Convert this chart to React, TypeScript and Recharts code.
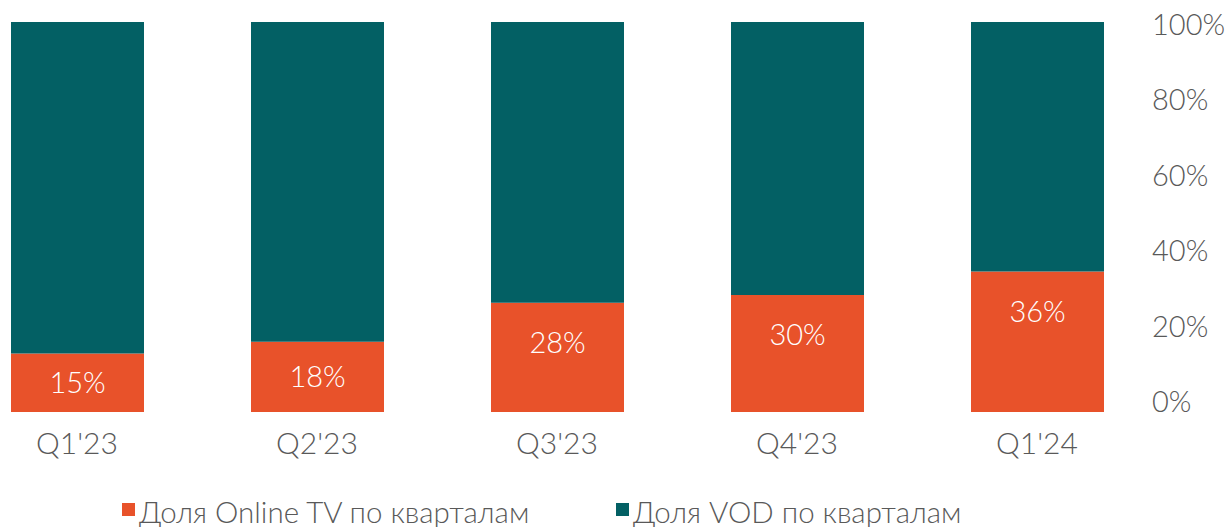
import React from "react";
import { BarChart, Bar, XAxis, YAxis, Legend, LabelList } from "recharts";

const quarters = ["Q1'23", "Q2'23", "Q3'23", "Q4'23", "Q1'24"];
const onlineTv = [15, 18, 28, 30, 36];
const vod = [85, 82, 72, 70, 64];
const yTicks = [0, 20, 40, 60, 80, 100];

const data = quarters.map((q, i) => ({ q, online: onlineTv[i], vod: vod[i] }));

const FONT = "Lato, 'Open Sans', sans-serif";
const GRAY = "#595959";
const ORANGE = "#E8522A";
const TEAL = "#036064";

const BarLabel = (props: any) => {
  const { x, y, width, height, value } = props;
  const cy = Math.min(y + 40, y + height / 2);
  return (
    <text
      x={x + width / 2}
      y={cy}
      dy="0.355em"
      textAnchor="middle"
      fill="#ffffff"
      fontSize={29}
      fontFamily={FONT}
      fontWeight={300}
    >
      {`${value}%`}
    </text>
  );
};

const LegendContent = () => {
  const items = [
    { label: "Доля Online TV по кварталам", color: ORANGE, w: 494 },
    { label: "Доля VOD по кварталам", color: TEAL, w: 400 },
  ];
  return (
    <div style={{ display: "flex", paddingLeft: 122, height: 30, alignItems: "center" }}>
      {items.map((it) => (
        <div key={it.label} style={{ width: it.w, display: "flex", alignItems: "center" }}>
          <span
            style={{
              display: "inline-block",
              width: 13,
              height: 13,
              background: it.color,
              marginRight: 4,
              marginTop: -6,
            }}
          />
          <span
            style={{
              fontFamily: FONT,
              fontSize: 29.5,
              fontWeight: 300,
              color: GRAY,
              whiteSpace: "nowrap",
              lineHeight: "30px",
            }}
          >
            {it.label}
          </span>
        </div>
      ))}
    </div>
  );
};

export default function App() {
  return (
    <div style={{ position: "absolute", left: 0, top: 0, width: 1232, height: 527 }}>
      <BarChart
        width={1232}
        height={527}
        data={data}
        margin={{ top: 22, right: 0, left: -43, bottom: 0 }}
        barCategoryGap={0}
      >
        <XAxis
          dataKey="q"
          axisLine={false}
          tickLine={false}
          tickSize={0}
          tickMargin={21}
          height={85}
          interval={0}
          tick={{ fill: GRAY, fontSize: 30, fontFamily: FONT, fontWeight: 300 }}
        />
        <YAxis yAxisId="bars" hide domain={[0, 100]} />
        <YAxis
          yAxisId="pct"
          orientation="right"
          width={75}
          domain={[-2.6, 100.7]}
          ticks={yTicks}
          allowDataOverflow
          axisLine={false}
          tickLine={false}
          tickSize={0}
          tickMargin={0}
          interval={0}
          tickFormatter={(v: number) => `${v}%`}
          tick={{ fill: GRAY, fontSize: 29, fontFamily: FONT, fontWeight: 300, dx: -5 }}
        />
        <Legend verticalAlign="bottom" content={<LegendContent />} wrapperStyle={{ left: 0, width: 1232 }} />
        <Bar yAxisId="bars" dataKey="online" stackId="a" fill={ORANGE} barSize={133} isAnimationActive={false}>
          <LabelList dataKey="online" content={<BarLabel />} />
        </Bar>
        <Bar yAxisId="bars" dataKey="vod" stackId="a" fill={TEAL} barSize={133} isAnimationActive={false} />
      </BarChart>
    </div>
  );
}
